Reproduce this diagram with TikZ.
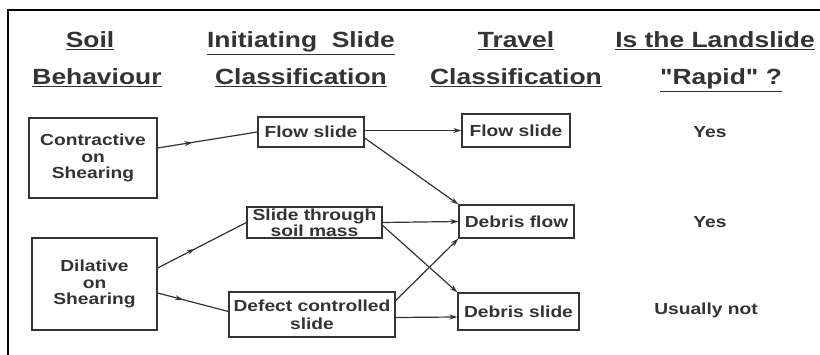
\documentclass[tikz,border=0pt]{standalone}
\usepackage{fontspec}
\newfontfamily\af{Liberation Sans}[FakeStretch=1.2]
\usetikzlibrary{arrows.meta,decorations.markings}
\definecolor{ink}{HTML}{333333}
\tikzset{
  box/.style={draw=ink, line width=1.3pt, inner sep=0pt, align=center, text=ink,
              font=\af\fontsize{16}{16.5}\selectfont\bfseries},
  hdr/.style={anchor=base, text=ink, inner sep=0pt, font=\af\fontsize{22}{26}\selectfont\bfseries},
  ans/.style={text=ink, inner sep=0pt, font=\af\fontsize{16}{18}\selectfont\bfseries},
  conn/.style={draw=ink, line width=1.2pt, -{Stealth[length=8pt,width=5pt]}},
  midarr/.style={draw=ink, line width=1.2pt, postaction={decorate},
     decoration={markings, mark=at position #1 with {\arrow{Stealth[length=8pt,width=5pt]}}}}
}
\newcommand{\hul}[1]{\underline{#1}}
\begin{document}
\begin{tikzpicture}[x=1pt,y=-1pt]
\useasboundingbox (0,0) rectangle (820,355);
\draw[line width=2.5pt] (8,355) -- (8,10) -- (820,10);
% headers
\node[hdr] (h1a) at (90,48) {\hul{Soil}};
\node[hdr] (h1b) at (97,85) {\hul{Behaviour}};
\node[hdr] (h2a) at (301,48) {\hul{Initiating\ \ Slide}};
\node[hdr] (h2b) at (301,85) {\hul{Classification}};
\node[hdr] (h3a) at (516,48) {\hul{Travel}};
\node[hdr] (h3b) at (516,85) {\hul{Classification}};
\node[hdr] (h4a) at (715,48) {\hul{Is the Landslide}};
\node[hdr] (h4b) at (721,85) {\hul{"Rapid" ?}};
% boxes
\node[box, minimum width=128pt, minimum height=80pt] (cont) at (93,158) {Contractive\\on\\Shearing};
\node[box, minimum width=125pt, minimum height=92pt] (dil) at (94.5,284) {Dilative\\on\\Shearing};
\node[box, minimum width=106pt, minimum height=30pt] (flowi) at (311,132) {Flow slide};
\node[box, minimum width=135pt, minimum height=31pt, font=\af\fontsize{16}{14.5}\selectfont\bfseries] (slid) at (314.5,222.5) {Slide through\\soil mass};
\node[box, minimum width=166pt, minimum height=45pt, font=\af\fontsize{16}{18}\selectfont\bfseries] (def) at (312,314.5) {Defect controlled\\slide};
\node[box, minimum width=108pt, minimum height=33pt] (flowt) at (516,130.5) {Flow slide};
\node[box, minimum width=115pt, minimum height=33pt] (dflow) at (516.5,221.5) {Debris flow};
\node[box, minimum width=121pt, minimum height=37pt] (dslide) at (518.5,311.5) {Debris slide};
% answers
\node[ans] (a1) at (710,132) {Yes};
\node[ans] (a2) at (710,222) {Yes};
\node[ans] (a3) at (706,310) {Usually not};
% connectors
\draw[midarr=0.35] ([yshift=10pt]cont.east) -- (flowi.west);
\draw[midarr=0.42] ([yshift=16pt]dil.east) -- (slid.west);
\draw[midarr=0.36] ([yshift=-9pt]dil.east) -- ([yshift=3pt]def.west);
\draw[conn] (flowi.east |- flowt.west) -- (flowt.west);
\draw[conn] ([yshift=-6pt]flowi.east) -- (dflow.north west);
\draw[conn] (slid.east) -- (dflow.west);
\draw[conn] ([yshift=-3pt]slid.east) -- (dslide.north west);
\draw[conn] ([yshift=14pt]def.east) -- (dflow.south west);
\draw[conn] ([yshift=-3pt]def.east) -- ([yshift=-5.5pt]dslide.west);
\end{tikzpicture}
\end{document}
